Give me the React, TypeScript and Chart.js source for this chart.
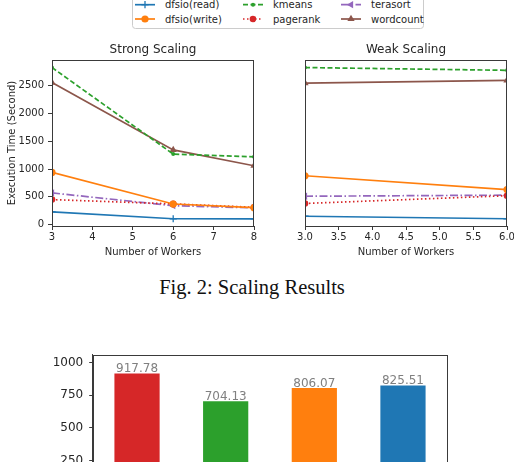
import React, { useEffect, useRef } from "react";
import { Chart, registerables } from "chart.js";

Chart.register(...registerables);

// ---------- data ----------
const seriesNames = ["dfsio(read)", "dfsio(write)", "kmeans", "pagerank", "terasort", "wordcount"];

const strongWorkers = [3, 6, 8];
const strongRead = [230, 105, 102];
const strongWrite = [940, 370, 305];
const strongKmeans = [2830, 1270, 1220];
const strongPagerank = [450, 372, 312];
const strongTerasort = [570, 340, 300];
const strongWordcount = [2560, 1345, 1060];

const weakWorkers = [3, 6];
const weakRead = [150, 105];
const weakWrite = [880, 630];
const weakKmeans = [2830, 2780];
const weakPagerank = [380, 520];
const weakTerasort = [510, 530];
const weakWordcount = [2550, 2600];

const strongXTicks = [3, 4, 5, 6, 7, 8];
const weakXTicks = [3, 3.5, 4, 4.5, 5, 5.5, 6];
const timeTicks = [0, 500, 1000, 1500, 2000, 2500];

const barCategories = ["1", "2", "3", "4"];
const barValues = [917.78, 704.13, 806.07, 825.51];
const barTicks = [0, 250, 500, 750, 1000];

// ---------- styles ----------
const FONT = "DejaVu Sans";
const AX = "#3a3a3a";
const TXT = "#262626";

type Style = { color: string; dash: number[]; point: string; radius: number; rotation: number };
const seriesStyles: Style[] = [
  { color: "#1f77b4", dash: [], point: "cross", radius: 3.6, rotation: 0 },
  { color: "#ff7f0e", dash: [], point: "circle", radius: 3.6, rotation: 0 },
  { color: "#2ca02c", dash: [5, 2.5], point: "circle", radius: 2, rotation: 0 },
  { color: "#d62728", dash: [1.5, 2.5], point: "circle", radius: 3.3, rotation: 0 },
  { color: "#9467bd", dash: [8, 2.5, 1.5, 2.5], point: "triangle", radius: 4.2, rotation: -90 },
  { color: "#8c564b", dash: [], point: "triangle", radius: 4.2, rotation: 0 },
];
const barColors = ["#d62728", "#2ca02c", "#ff7f0e", "#1f77b4"];

const boxPlugin = {
  id: "box",
  afterDraw(chart: any) {
    const { ctx, chartArea: a } = chart;
    ctx.save();
    ctx.strokeStyle = AX;
    ctx.lineWidth = 1;
    ctx.strokeRect(Math.round(a.left) + 0.5, Math.round(a.top) + 0.5, Math.round(a.right - a.left) - 1, Math.round(a.bottom - a.top));
    ctx.restore();
  },
};

function buildDatasets(workers: number[], series: number[][]) {
  return series.map((vals, i) => {
    const st = seriesStyles[i];
    return {
      label: seriesNames[i],
      data: vals.map((v, j) => ({ x: workers[j], y: v })),
      borderColor: st.color,
      backgroundColor: st.color,
      borderWidth: 1.7,
      borderDash: st.dash,
      pointStyle: st.point,
      pointRadius: st.radius,
      pointRotation: st.rotation,
      pointBorderWidth: st.point === "cross" ? 1.3 : 0,
      pointBorderColor: st.color,
      pointBackgroundColor: st.color,
      tension: 0,
    };
  });
}

function lineConfig(
  workers: number[],
  series: number[][],
  xTicks: number[],
  title: string,
  showY: boolean,
  fmt: (v: number) => string,
  padding: any
) {
  return {
    type: "line",
    data: { datasets: buildDatasets(workers, series) },
    options: {
      responsive: false,
      animation: false,
      devicePixelRatio: 1,
      layout: { padding },
      plugins: {
        legend: { display: false },
        tooltip: { enabled: false },
        title: {
          display: true,
          text: title,
          fullSize: false,
          color: TXT,
          font: { family: FONT, size: 12, weight: "normal" },
          padding: { top: 0, bottom: 3 },
        },
      },
      scales: {
        x: {
          type: "linear",
          min: xTicks[0],
          max: xTicks[xTicks.length - 1],
          afterBuildTicks: (s: any) => {
            s.ticks = xTicks.map((v) => ({ value: v }));
          },
          afterFit: (s: any) => {
            s.height = 40;
          },
          grid: { display: true, drawOnChartArea: false, drawTicks: true, tickLength: 4, color: AX, lineWidth: 1 },
          border: { display: true, color: AX, width: 1 },
          ticks: {
            color: TXT,
            font: { family: FONT, size: 10 },
            padding: 1,
            maxRotation: 0,
            autoSkip: false,
            callback: (v: any) => fmt(Number(v)),
          },
          title: {
            display: true,
            text: "Number of Workers",
            color: TXT,
            font: { family: FONT, size: 10 },
            padding: { top: 0, bottom: 7.3 },
          },
        },
        y: {
          type: "linear",
          display: showY,
          min: -26,
          max: 2966,
          afterBuildTicks: (s: any) => {
            s.ticks = timeTicks.map((v) => ({ value: v }));
          },
          afterFit: (s: any) => {
            s.width = showY ? 52 : 0;
          },
          grid: { display: true, drawOnChartArea: false, drawTicks: true, tickLength: 4, color: AX, lineWidth: 1 },
          border: { display: true, color: AX, width: 1 },
          ticks: {
            color: TXT,
            font: { family: FONT, size: 10 },
            padding: 4,
            callback: (v: any) => String(v),
          },
          title: {
            display: true,
            text: "Execution Time (Second)",
            color: TXT,
            font: { family: FONT, size: 10 },
            padding: { top: 6.5, bottom: 0 },
          },
        },
      },
    },
    plugins: [boxPlugin],
  };
}

const valueLabelPlugin = {
  id: "valueLabels",
  afterDatasetsDraw(chart: any) {
    const { ctx } = chart;
    const meta = chart.getDatasetMeta(0);
    ctx.save();
    ctx.fillStyle = "#808080";
    ctx.font = `12px "${FONT}"`;
    ctx.textAlign = "center";
    ctx.textBaseline = "alphabetic";
    meta.data.forEach((el: any, i: number) => {
      ctx.fillText(barValues[i].toFixed(2), el.x, el.y - 1);
    });
    ctx.restore();
  },
};

function barConfig() {
  return {
    type: "bar",
    data: {
      labels: barCategories,
      datasets: [
        {
          data: barValues,
          backgroundColor: barColors,
          barPercentage: 0.51,
          categoryPercentage: 1,
        },
      ],
    },
    options: {
      responsive: false,
      animation: false,
      devicePixelRatio: 1,
      layout: { padding: { top: 14.7, right: 66.7, left: 0, bottom: 0 } },
      plugins: { legend: { display: false }, tooltip: { enabled: false } },
      scales: {
        x: {
          afterFit: (s: any) => {
            s.height = 30;
          },
          grid: { display: true, offset: false, drawOnChartArea: false, drawTicks: true, tickLength: 4, color: AX },
          border: { display: true, color: AX },
          ticks: { display: false },
        },
        y: {
          min: 0,
          max: 1061.5,
          afterBuildTicks: (s: any) => {
            s.ticks = barTicks.map((v) => ({ value: v }));
          },
          afterFit: (s: any) => {
            s.width = 92.7;
          },
          grid: { display: true, drawOnChartArea: false, drawTicks: true, tickLength: 3.5, color: AX },
          border: { display: true, color: AX },
          ticks: {
            color: TXT,
            font: { family: FONT, size: 12 },
            padding: 6,
            callback: (v: any) => String(v),
          },
        },
      },
    },
    plugins: [boxPlugin, valueLabelPlugin],
  };
}

function ChartCanvas({ config, left, top, width, height }: any) {
  const ref = useRef<HTMLCanvasElement | null>(null);
  useEffect(() => {
    if (!ref.current) return;
    const chart = new Chart(ref.current, config() as any);
    return () => chart.destroy();
  }, []);
  return (
    <canvas
      ref={ref}
      width={width}
      height={height}
      style={{ position: "absolute", left, top, width, height, display: "block" }}
    />
  );
}

function LegendHandle({ i, x, y }: { i: number; x: number; y: number }) {
  const st = seriesStyles[i];
  const cx = x + 10;
  let marker: any = null;
  if (st.point === "cross") {
    marker = (
      <g stroke={st.color} strokeWidth={1.3}>
        <line x1={cx - 3.6} y1={y} x2={cx + 3.6} y2={y} />
        <line x1={cx} y1={y - 3.6} x2={cx} y2={y + 3.6} />
      </g>
    );
  } else if (st.point === "circle") {
    marker = <circle cx={cx} cy={y} r={st.radius} fill={st.color} />;
  } else if (st.point === "triangle") {
    const r = st.radius;
    const pts =
      st.rotation === -90
        ? `${cx - r},${y} ${cx + r * 0.5},${y - r * 0.87} ${cx + r * 0.5},${y + r * 0.87}`
        : `${cx},${y - r} ${cx - r * 0.87},${y + r * 0.5} ${cx + r * 0.87},${y + r * 0.5}`;
    marker = <polygon points={pts} fill={st.color} />;
  }
  return (
    <g>
      <line
        x1={x}
        y1={y}
        x2={x + 20}
        y2={y}
        stroke={st.color}
        strokeWidth={1.7}
        strokeDasharray={st.dash.length ? st.dash.join(" ") : undefined}
      />
      {marker}
    </g>
  );
}

function Legend() {
  const cols = [135, 243, 341];
  const rowsY = [4.7, 19];
  const textDx = 30;
  return (
    <svg width={514} height={32} style={{ position: "absolute", left: 0, top: 0 }}>
      <rect x={132.5} y={-5} width={291} height={33.5} rx={3} fill="#fff" stroke="#cccccc" strokeWidth={1} />
      {seriesNames.map((name, i) => {
        const c = Math.floor(i / 2);
        const r = i % 2;
        return (
          <g key={name}>
            <LegendHandle i={i} x={cols[c]} y={rowsY[r]} />
            <text x={cols[c] + textDx} y={rowsY[r] + 3.5} fontFamily={FONT} fontSize={10} fill={TXT}>
              {name}
            </text>
          </g>
        );
      })}
    </svg>
  );
}

export default function App() {
  const strongSeries = [strongRead, strongWrite, strongKmeans, strongPagerank, strongTerasort, strongWordcount];
  const weakSeries = [weakRead, weakWrite, weakKmeans, weakPagerank, weakTerasort, weakWordcount];
  return (
    <div
      style={{
        position: "absolute",
        left: 0,
        top: 0,
        width: 514,
        height: 462,
        overflow: "hidden",
        background: "#fff",
      }}
    >
      <ChartCanvas
        left={0}
        top={36}
        width={262}
        height={230}
        config={() =>
          lineConfig(strongWorkers, strongSeries, strongXTicks, "Strong Scaling", true, (v) => String(v), {
            top: 6.6,
            right: 8,
            left: 0,
            bottom: 0,
          })
        }
      />
      <ChartCanvas
        left={262}
        top={36}
        width={280}
        height={230}
        config={() =>
          lineConfig(weakWorkers, weakSeries, weakXTicks, "Weak Scaling", false, (v) => v.toFixed(1), {
            top: 6.6,
            right: 35,
            left: 43,
            bottom: 0,
          })
        }
      />
      <Legend />
      <svg width={514} height={40} style={{ position: "absolute", left: 0, top: 270 }}>
        <text x={252} y={24} textAnchor="middle" fontFamily="Liberation Serif, Times New Roman, serif" fontSize={20.5} fill="#111">
          Fig. 2: Scaling Results
        </text>
      </svg>
      <ChartCanvas left={0} top={340} width={514} height={183} config={barConfig} />
    </div>
  );
}
